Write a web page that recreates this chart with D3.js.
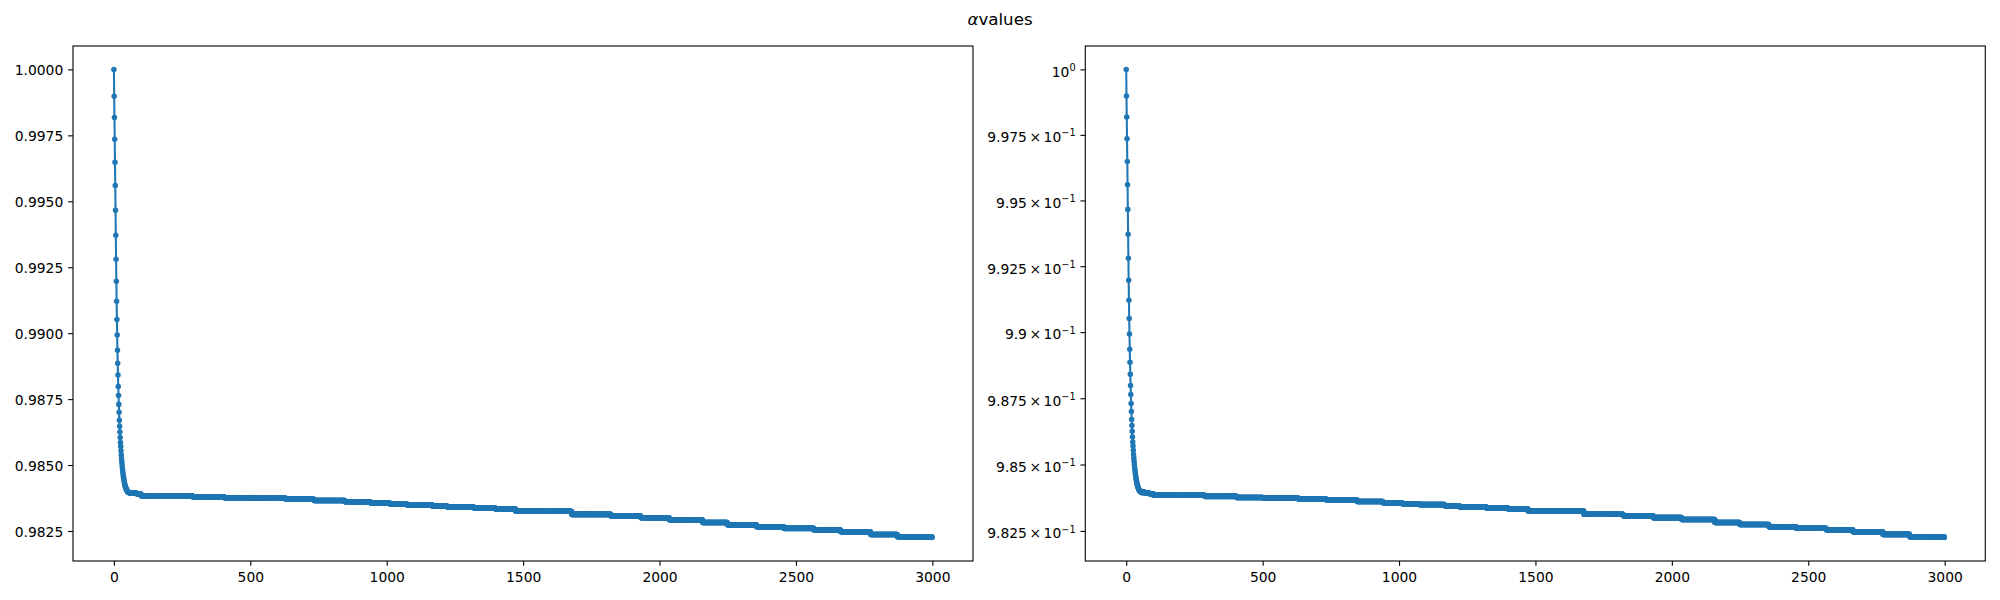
<!DOCTYPE html>
<html><head><meta charset="utf-8">
<script src="https://cdn.jsdelivr.net/npm/d3@7"></script>
<style>body{margin:0;background:#fff}svg{display:block;font-family:"DejaVu Sans",sans-serif}</style>
</head><body><svg id="c" width="2000" height="600"></svg>
<script>
// ---- data ----
const headValues = [1.00000, 0.99898, 0.99818, 0.99735, 0.99648, 0.99560, 0.99466, 0.99371, 0.99280, 0.99197,
  0.99121, 0.99052, 0.98993, 0.98935, 0.98886, 0.98841, 0.98798, 0.98764, 0.98730, 0.98700,
  0.98670, 0.98647, 0.98625, 0.98604, 0.98585, 0.98570, 0.98554, 0.98538, 0.98524, 0.98512,
  0.98500, 0.98490, 0.98480, 0.98471, 0.98462, 0.98455, 0.98448, 0.98442, 0.98436, 0.98431,
  0.98426, 0.98422, 0.98418, 0.98415, 0.98412, 0.98409, 0.98407, 0.98405, 0.98403, 0.98402,
  0.98400, 0.98399, 0.98398, 0.98397, 0.98396];
const stepStarts = [55, 70, 85, 100, 288, 405, 502, 631, 734, 847, 941, 1012, 1075, 1167, 1222, 1320, 1399, 1473,
  1678, 1822, 1932, 2036, 2158, 2249, 2356, 2456, 2566, 2664, 2774, 2872, 2999];
const stepValues = [0.98395, 0.98393, 0.98390, 0.98384, 0.98380, 0.98376, 0.98374, 0.98370, 0.98366, 0.98361,
  0.98356, 0.98352, 0.98349, 0.98345, 0.98341, 0.98337, 0.98333, 0.98325,
  0.98313, 0.98307, 0.98300, 0.98293, 0.98282, 0.98274, 0.98266, 0.98260, 0.98254, 0.98247, 0.98237, 0.98228, 0.98225];
const nPoints = 3000;
const xTicks = [0, 500, 1000, 1500, 2000, 2500, 3000];
const yTicks = [1.0, 0.9975, 0.995, 0.9925, 0.99, 0.9875, 0.985, 0.9825];
const yTickLabels = ["1.0000", "0.9975", "0.9950", "0.9925", "0.9900", "0.9875", "0.9850", "0.9825"];
const logMantissas = ["", "9.975", "9.95", "9.925", "9.9", "9.875", "9.85", "9.825"];
const logExponents = ["0", "\u22121", "\u22121", "\u22121", "\u22121", "\u22121", "\u22121", "\u22121"];
const titleGreek = "\u03b1", titleRest = "values";

// ---- build series (run-length decoded) ----
const series = [];
for (let i = 0; i < nPoints; i++) {
  let v;
  if (i < headValues.length) v = headValues[i];
  else { let k = 0; while (k + 1 < stepStarts.length && stepStarts[k + 1] <= i) k++; v = stepValues[k]; }
  series.push({ i, v });
}

const svg = d3.select("#c");
svg.append("rect").attr("width", 2000).attr("height", 600).attr("fill", "#fff");
const FS = 13.89, TICK = 4.86, PAD = 4.86, C = "#1f77b4";
const TOP = 46, W = 900, H = 515;
const panels = [{ left: 73, log: false }, { left: 1085.3, log: true }];

const xExt = d3.extent(series, d => d.i), xr = xExt[1] - xExt[0];
const yExt = d3.extent(series, d => d.v), yr = yExt[1] - yExt[0];

panels.forEach((p, pi) => {
  const g = svg.append("g").attr("transform", `translate(${p.left},${TOP})`);
  const x = d3.scaleLinear().domain([xExt[0] - 0.05 * xr, xExt[1] + 0.05 * xr]).range([0, W]);
  let y;
  if (p.log) {
    const l0 = Math.log10(yExt[0]), l1 = Math.log10(yExt[1]), lr = l1 - l0;
    y = d3.scaleLog().domain([Math.pow(10, l0 - 0.05 * lr), Math.pow(10, l1 + 0.05 * lr)]).range([H, 0]);
  } else {
    y = d3.scaleLinear().domain([yExt[0] - 0.05 * yr, yExt[1] + 0.05 * yr]).range([H, 0]);
  }
  const clipId = "clip" + pi;
  g.append("clipPath").attr("id", clipId).append("rect").attr("width", W).attr("height", H);
  const plot = g.append("g").attr("clip-path", `url(#${clipId})`);
  plot.append("path").datum(series)
    .attr("d", d3.line().x(d => x(d.i)).y(d => y(d.v)))
    .attr("fill", "none").attr("stroke", C).attr("stroke-width", 2.08).attr("stroke-linejoin", "round");
  plot.append("g").selectAll("circle").data(series).join("circle")
    .attr("cx", d => x(d.i)).attr("cy", d => y(d.v)).attr("r", 2.08)
    .attr("fill", C).attr("stroke", C).attr("stroke-width", 1.39);

  const xa = g.append("g").attr("transform", `translate(0,${H})`)
    .call(d3.axisBottom(x).tickValues(xTicks).tickFormat(d3.format("d")).tickSize(TICK).tickPadding(PAD));
  const ya = g.append("g")
    .call(d3.axisLeft(y).tickValues(yTicks).tickSize(TICK).tickPadding(PAD)
      .tickFormat(d => p.log ? "" : yTickLabels[yTicks.indexOf(d)]));
  [xa, ya].forEach(a => {
    a.select(".domain").remove();
    a.attr("font-size", FS).attr("font-family", "DejaVu Sans, sans-serif");
    a.selectAll(".tick line").attr("stroke", "#000").attr("stroke-width", 1.1);
    a.selectAll(".tick text").attr("fill", "#000");
  });
  xa.selectAll(".tick text").attr("dy", "0.81em");
  if (!p.log) {
    ya.selectAll(".tick text").attr("dy", "0.36em");
  } else {
    ya.selectAll(".tick text").each(function (d) {
      const k = yTicks.indexOf(d);
      const t = d3.select(this).text(null).attr("dy", "6.8px");
      const m = logMantissas[k];
      if (m) {
        t.append("tspan").text(m);
        t.append("tspan").attr("dx", 2.5).text("\u00d7");
        t.append("tspan").attr("dx", 2.5).text("10");
      } else {
        t.append("tspan").text("10");
      }
      t.append("tspan").attr("dy", -5.7).attr("font-size", FS * 0.7).text(logExponents[k]);
    });
  }
  g.append("rect").attr("width", W).attr("height", H).attr("fill", "none")
    .attr("stroke", "#000").attr("stroke-width", 1.1);
});

const tt = svg.append("text").attr("x", 1000).attr("y", 25).attr("text-anchor", "middle")
  .attr("font-size", 16.67).attr("fill", "#000");
tt.append("tspan").attr("font-style", "italic").text(titleGreek);
tt.append("tspan").text(titleRest);
</script>
</body></html>
